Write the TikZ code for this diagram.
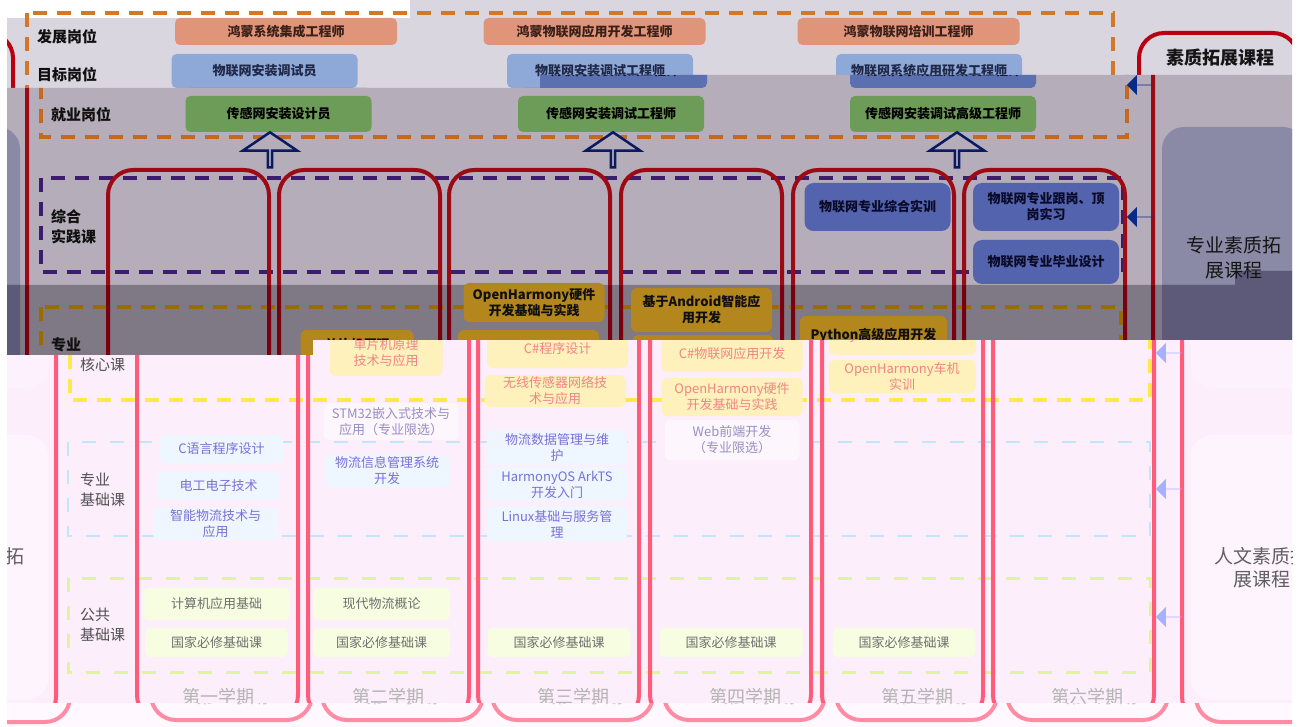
\documentclass[tikz,border=0pt]{standalone}
\usepackage{fontspec}
\setmainfont{Noto Sans CJK SC}
\usetikzlibrary{shapes.arrows}

% colours of the middle band; the other bands override some of them
\definecolor{bgcol}{HTML}{B5ADB9}
\definecolor{semline}{HTML}{9C0A14}
\definecolor{jobdash}{HTML}{C46A20}
\definecolor{devfill}{HTML}{E0957A}
\definecolor{devtext}{HTML}{3A2018}
\definecolor{tgtfill}{HTML}{5A70B0}
\definecolor{tgttext}{HTML}{101830}
\definecolor{empfill}{HTML}{6D9B58}
\definecolor{emptext}{HTML}{000000}
\definecolor{navy}{HTML}{0A1A60}
\definecolor{pracdash}{HTML}{3C1C6C}
\definecolor{pracfill}{HTML}{5463AD}
\definecolor{practext}{HTML}{080A28}
\definecolor{coredash}{HTML}{9C7000}
\definecolor{corefill}{HTML}{B3861E}
\definecolor{coretext}{HTML}{101010}
\definecolor{basedash}{HTML}{C0E6FA}
\definecolor{basefill}{HTML}{EEF6FF}
\definecolor{basetext}{HTML}{7A70D8}
\definecolor{optfill}{HTML}{FDF6FD}
\definecolor{opttext}{HTML}{9890C0}
\definecolor{pubdash}{HTML}{E0F4A0}
\definecolor{pubfill}{HTML}{F6FDE0}
\definecolor{pubtext}{HTML}{707070}
\definecolor{lbltext}{HTML}{101010}
\definecolor{semtext}{HTML}{B4B4B4}
\definecolor{qualfill}{HTML}{8A8AA6}
\definecolor{qualtext}{HTML}{151515}
\definecolor{humfill}{HTML}{FFFAFF}
\definecolor{humtext}{HTML}{606060}
\definecolor{sidecol}{HTML}{0A2A8A}

\newcommand\boxweight{\bfseries}
\newcommand\boxfont{\fontsize{13}{16}\selectfont\boxweight}
\newcommand\lblfont{\fontsize{15}{20}\selectfont\bfseries}

\tikzset{
  box/.style={rounded corners=5pt, align=center, inner sep=0pt, font=\boxfont},
  devbox/.style={box, fill=devfill, text=devtext, minimum width=222pt, minimum height=27pt},
  tgtbox/.style={box, fill=tgtfill, text=tgttext, minimum width=186pt, minimum height=34pt},
  empbox/.style={box, fill=empfill, text=emptext, minimum width=186pt, minimum height=36pt},
  pracbox/.style={box, fill=pracfill, text=practext, minimum width=146pt, rounded corners=9pt},
  corebox/.style={box, fill=corefill, text=coretext, minimum width=141pt, rounded corners=6pt},
  basebox/.style={box, fill=basefill, text=basetext, minimum width=140pt},
  optbox/.style={box, fill=optfill, text=opttext, minimum width=135pt},
  pubbox/.style={box, fill=pubfill, text=pubtext, minimum width=143pt, minimum height=29pt},
  lbl/.style={anchor=west, align=left, inner sep=0pt, text=lbltext, font=\lblfont},
  semlbl/.style={inner sep=0pt, text=semtext, font=\fontsize{18}{20}\selectfont},
  semcolumn/.style={draw=semline, line width=4pt, rounded corners=25pt, inner sep=0pt,
                    minimum width=161pt, minimum height=550pt},
  qualtitle/.style={inner sep=0pt, text=qualtext, font=\fontsize{18}{20}\selectfont\bfseries},
  qualbox/.style={fill=qualfill, text=qualtext, rounded corners=22pt, align=center, inner sep=0pt,
                  minimum width=143pt, minimum height=261pt, font=\fontsize{19}{25}\selectfont},
  humbox/.style={qualbox, fill=humfill, text=humtext, minimum height=265pt,
                 font=\fontsize{19}{23}\selectfont},
  jobframe/.style={draw=jobdash, line width=4pt, dash pattern=on 14pt off 10pt},
  pracframe/.style={jobframe, draw=pracdash},
  coreframe/.style={jobframe, draw=coredash},
  baseframe/.style={draw=basedash, line width=2.5pt, dash pattern=on 14pt off 14pt},
  pubframe/.style={baseframe, draw=pubdash, line width=3pt},
  uparrow/.style={single arrow, draw=navy, fill=bgcol, line width=2.5pt, shape border rotate=90,
                  minimum height=35pt, minimum width=54pt, single arrow head extend=15pt,
                  single arrow tip angle=112, inner sep=0pt},
  sidearrow/.style={single arrow, fill=sidecol, shape border rotate=180, minimum height=26pt,
                    minimum width=20pt, single arrow head extend=5pt, single arrow tip angle=90,
                    inner sep=0pt}
}

% the whole plan, in the coordinates of the middle band
\newcommand\plan{%
  % dashed section frames
  \draw[jobframe]  (41,13)  rectangle (1127,137);
  \draw[pracframe] (41,178) rectangle (1123,272);
  \draw[coreframe] (41,307) rectangle (1121,400);
  \draw[baseframe] (39,442) rectangle (1121,536);
  \draw[pubframe]  (39,578) rectangle (1121,672);
  % semester columns
  \foreach \x [count=\i] in {108,279,449,621,793,964}
    \node[semcolumn] (sem\i) at (\x+80.5,445) {};
  \foreach \lx/\name [count=\i] in {189/第一学期,359/第二学期,544/第三学期,716/第四学期,888/第五学期,1058/第六学期}
    \node[semlbl] (semname\i) at (\lx,697) {\name};
  % quality column
  \node[semcolumn, minimum width=159pt, minimum height=689pt] (qualcol) at (1232.5,377.5) {};
  \node[qualtitle] (qualtitle) at (1234,58) {素质拓展课程};
  \node[qualbox] (qualpro) at (1233.5,257.5) {专业素质拓\\展课程};
  \node[humbox]  (qualhum) at (1233,567.5) {人文素质拓\\展课程};
  % row labels
  \node[lbl] (ldev)  at (51,37)  {发展岗位};
  \node[lbl] (ltgt)  at (51,75)  {目标岗位};
  \node[lbl] (lemp)  at (51,115) {就业岗位};
  \node[lbl] (lprac) at (51,227) {综合\\实践课};
  \node[lbl] (lcore) at (51,355) {专业\\核心课};
  \node[lbl] (lbase) at (51,490) {专业\\基础课};
  \node[lbl] (lpub)  at (51,625) {公共\\基础课};
  % posts
  \node[devbox] (dev1) at (300,31.5)   {鸿蒙系统集成工程师};
  \node[devbox] (dev2) at (608.5,31.5) {鸿蒙物联网应用开发工程师};
  \node[devbox] (dev3) at (922.5,31.5) {鸿蒙物联网培训工程师};
  \node[tgtbox] (tgt1) at (278.5,71) {物联网安装调试员};
  \node[tgtbox] (tgt2) at (614,71)   {物联网安装调试工程师};
  \node[tgtbox] (tgt3) at (943,71)   {物联网系统应用研发工程师};
  \node[empbox] (emp1) at (278.5,114) {传感网安装设计员};
  \node[empbox] (emp2) at (611,114)   {传感网安装调试工程师};
  \node[empbox] (emp3) at (943,114)   {传感网安装调试高级工程师};
  \foreach \x [count=\i] in {270,613,957}
    \node[uparrow] (up\i) at (\x,150.5) {};
  % practice courses
  \node[pracbox, minimum height=48pt] (prac1) at (877.5,207) {物联网专业综合实训};
  \node[pracbox, minimum height=48pt] (prac2) at (1046,207)  {物联网专业跟岗、顶\\岗实习};
  \node[pracbox, minimum height=44pt] (prac3) at (1046,262)  {物联网专业毕业设计};
  % core courses
  \node[corebox, minimum width=113pt, minimum height=46pt] (core21) at (357,353) {单片机原理\\技术与应用};
  \node[corebox, minimum height=39pt] (core31) at (534,302.5) {OpenHarmony硬件\\开发基础与实践};
  \node[corebox, minimum height=38pt] (core32) at (528.5,349) {C\#程序设计};
  \node[corebox, minimum height=32pt] (core33) at (526,391)   {无线传感器网络技\\术与应用};
  \node[corebox, minimum height=44pt] (core41) at (701.5,310) {基于Android智能应\\用开发};
  \node[corebox, minimum height=37pt] (core42) at (703,353.5) {C\#物联网应用开发};
  \node[corebox, minimum height=38pt] (core43) at (703,397)   {OpenHarmony硬件\\开发基础与实践};
  \node[corebox, minimum width=147pt, minimum height=39pt] (core51) at (873.5,335.5) {Python高级应用开发};
  \node[corebox, minimum width=147pt, minimum height=33pt] (core52) at (873,376.5)   {OpenHarmony车机\\实训};
  % basic courses
  \node[basebox, minimum width=123pt, minimum height=28pt] (base11) at (192.5,449) {C语言程序设计};
  \node[basebox, minimum width=123pt, minimum height=28pt] (base12) at (189.5,486) {电工电子技术};
  \node[basebox, minimum width=125pt, minimum height=32pt] (base13) at (186.5,524) {智能物流技术与\\应用};
  \node[optbox, minimum height=37pt] (opt2) at (362,421.5) {STM32嵌入式技术与\\应用（专业限选）};
  \node[basebox, minimum width=125pt, minimum height=32pt] (base21) at (358,471) {物流信息管理系统\\开发};
  \node[basebox, minimum height=35pt] (base31) at (528,447.5) {物流数据管理与维\\护};
  \node[basebox, minimum height=33pt] (base32) at (528,484.5) {HarmonyOS ArkTS\\开发入门};
  \node[basebox, minimum height=34pt] (base33) at (528,524)   {Linux基础与服务管\\理};
  \node[optbox, minimum height=40pt] (opt4) at (703,440) {Web前端开发\\（专业限选）};
  % public courses
  \node[pubbox, minimum width=147pt, minimum height=32pt] (pub11) at (187.5,604) {计算机应用基础};
  \node[pubbox] (pub12) at (187.5,642.5) {国家必修基础课};
  \node[pubbox, minimum width=137pt, minimum height=32pt] (pub21) at (352.5,604) {现代物流概论};
  \node[pubbox, minimum width=137pt] (pub22) at (352.5,642.5) {国家必修基础课};
  \foreach \x [count=\i from 3] in {530,702,875}
    \node[pubbox] (pub\i2) at (\x,642.5) {国家必修基础课};
  % arrows from the quality column
  \foreach \y [count=\i] in {85,217,353,489,617}
    \node[sidearrow] (side\i) at (1140,\y) {};
}
\newcommand\shifted[1]{%
  \begin{scope}[xshift=#1]\plan\end{scope}%
  \begin{scope}[xshift=#1-1285]\plan\end{scope}}

\begin{document}
\begin{tikzpicture}[x=1pt, y=-1pt]
  \useasboundingbox (0,0) rectangle (1301,727);
  \fill[white] (0,0) rectangle (1301,727);

  % top band
  \begin{scope}
    \definecolor{bgcol}{HTML}{DAD6E0}
    \definecolor{semline}{HTML}{B80012}
    \definecolor{jobdash}{HTML}{D27828}
    \definecolor{tgtfill}{HTML}{8EA8D8}
    \definecolor{tgttext}{HTML}{202848}
    \clip (7,0) -- (1292,0) -- (1292,75) -- (540,75) -- (540,88) -- (7,88) -- cycle;
    \fill[bgcol] (0,0) rectangle (1301,727);
    \fill[white] (7,0) rectangle (410,18);
    \shifted{-14}
  \end{scope}

  % middle band
  \begin{scope}
    \clip (7,88) -- (540,88) -- (540,75) -- (1292,75) -- (1292,271) -- (1235,271)
      -- (1235,285) -- (7,285) -- cycle;
    \fill[bgcol] (0,0) rectangle (1301,727);
    \shifted{0}
  \end{scope}

  % dark band
  \begin{scope}
    \definecolor{bgcol}{HTML}{7F7885}
    \definecolor{semline}{HTML}{7A0010}
    \definecolor{qualfill}{HTML}{5D5979}
    \definecolor{coredash}{HTML}{9A6C00}
    \clip (7,285) -- (1235,285) -- (1235,271) -- (1292,271) -- (1292,340) -- (313,340)
      -- (313,355) -- (7,355) -- cycle;
    \fill[bgcol] (0,0) rectangle (1301,727);
    \shifted{0}
  \end{scope}

  % pale lower band
  \begin{scope}
    \definecolor{bgcol}{HTML}{FDEEFC}
    \definecolor{semline}{HTML}{FF5C7C}
    \definecolor{coredash}{HTML}{FFE84C}
    \definecolor{corefill}{HTML}{FFF1BC}
    \definecolor{coretext}{HTML}{F08585}
    \definecolor{lbltext}{HTML}{505050}
    \definecolor{qualfill}{HTML}{FCF1FC}
    \definecolor{humfill}{HTML}{FEF4FE}
    \definecolor{sidecol}{HTML}{A6B0FF}
    \renewcommand\lblfont{\fontsize{15}{20}\selectfont}
    \renewcommand\boxweight{\mdseries}
    \clip (7,355) -- (313,355) -- (313,340) -- (1292,340) -- (1292,703) -- (7,703) -- cycle;
    \fill[bgcol] (0,0) rectangle (1301,727);
    \shifted{29}
  \end{scope}

  % bottom strip
  \begin{scope}
    \definecolor{bgcol}{HTML}{FFF8FF}
    \definecolor{semline}{HTML}{FF8CA2}
    \definecolor{semtext}{HTML}{C8C8C8}
    \definecolor{humfill}{HTML}{FEF6FE}
    \clip (7,703) rectangle (1292,727);
    \fill[bgcol] (0,0) rectangle (1301,727);
    \shifted{43}
  \end{scope}
\end{tikzpicture}
\end{document}
